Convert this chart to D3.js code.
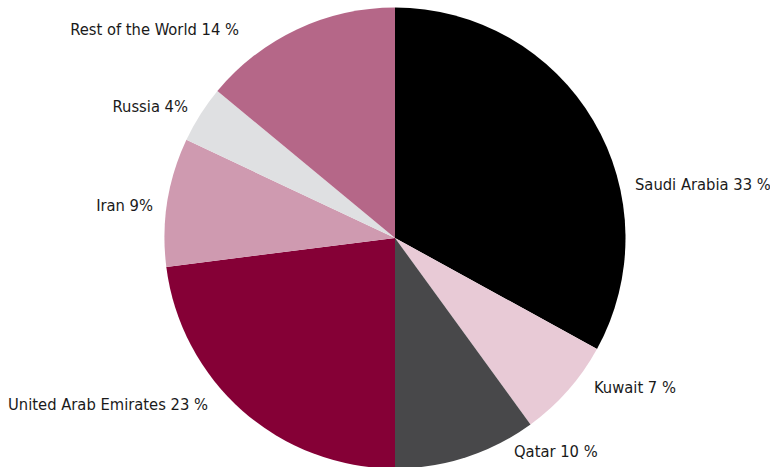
<!DOCTYPE html>
<html>
<head>
<meta charset="utf-8">
<script src="https://cdn.jsdelivr.net/npm/d3@7"></script>
<style>
  html, body { margin: 0; padding: 0; background: #fff; }
  svg text { font-family: "Liberation Sans Narrow", "DejaVu Sans Condensed", "Open Sans", sans-serif; fill: #1a1a1a; }
</style>
</head>
<body>
<svg id="chart" width="770" height="467"></svg>
<script>
// Share of total by country (percent), clockwise from 12 o'clock
const countries = ["Saudi Arabia", "Kuwait", "Qatar", "United Arab Emirates", "Iran", "Russia", "Rest of the World"];
const shares = [33, 7, 10, 23, 9, 4, 14];
const labelTexts = ["Saudi Arabia 33 %", "Kuwait 7 %", "Qatar 10 %", "United Arab Emirates 23 %", "Iran 9%", "Russia 4%", "Rest of the World 14 %"];
const sliceColors = ["#000000", "#e8cad6", "#48484a", "#850036", "#cf9ab0", "#dfe0e2", "#b56788"];

// Label placement: [x, baseline y, anchor]
const labelLayout = [
  [635, 190, "start"],
  [594, 393, "start"],
  [514, 457, "start"],
  [208, 410, "end"],
  [153, 211, "end"],
  [188, 112, "end"],
  [239, 35, "end"]
];

const width = 770, height = 467;
const cx = 395, cy = 238, radius = 230.5;

const svg = d3.select("#chart");
const data = countries.map((c, i) => ({ country: c, value: shares[i], label: labelTexts[i], color: sliceColors[i] }));

const pie = d3.pie().value(d => d.value).sort(null);
const arc = d3.arc().innerRadius(0).outerRadius(radius);

const g = svg.append("g").attr("transform", `translate(${cx},${cy})`);
g.selectAll("path")
  .data(pie(data))
  .join("path")
  .attr("d", arc)
  .attr("fill", d => d.data.color);

svg.append("g")
  .selectAll("text")
  .data(data)
  .join("text")
  .attr("x", (d, i) => labelLayout[i][0])
  .attr("y", (d, i) => labelLayout[i][1])
  .attr("text-anchor", (d, i) => labelLayout[i][2])
  .attr("font-size", 16.4)
  .text(d => d.label);
</script>
</body>
</html>
